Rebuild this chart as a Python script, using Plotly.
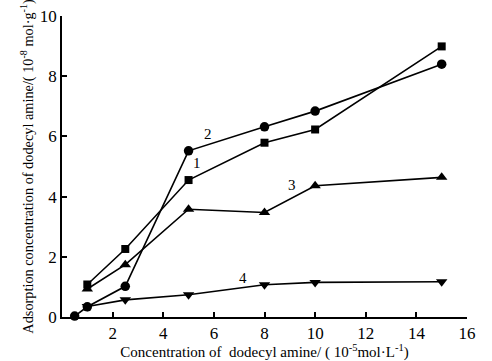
import plotly.graph_objects as go

x1 = [1, 2.5, 5, 8, 10, 15]
y1 = [1.08, 2.26, 4.55, 5.79, 6.23, 8.99]
x2 = [0.5, 1, 2.5, 5, 8, 10, 15]
y2 = [0.03, 0.34, 1.02, 5.52, 6.32, 6.84, 8.4]
x3 = [1, 2.5, 5, 8, 10, 15]
y3 = [0.93, 1.74, 3.58, 3.47, 4.36, 4.64]
x4 = [1, 2.5, 5, 8, 10, 15]
y4 = [0.35, 0.57, 0.74, 1.07, 1.15, 1.17]

labels = ["1", "2", "3", "4"]
label_x = [5.32, 5.76, 9.08, 7.17]
label_y = [5.1, 6.07, 4.37, 1.31]

font = "Liberation Serif, Times New Roman, serif"
fig = go.Figure()
series = [(x1, y1, "square", 8), (x2, y2, "circle", 9.5), (x3, y3, "triangle-up", 10), (x4, y4, "triangle-down", 10)]
for (xs, ys, sym, sz), name in zip(series, labels):
    fig.add_trace(go.Scatter(x=xs, y=ys, mode="lines+markers", name=name,
                             line=dict(color="black", width=1.6),
                             marker=dict(symbol=sym, size=sz, color="black"),
                             cliponaxis=False))

for t, lx, ly in zip(labels, label_x, label_y):
    fig.add_annotation(x=lx, y=ly, text=t, showarrow=False,
                       font=dict(family=font, size=15, color="black"))

fig.update_layout(
    width=492, height=361,
    margin=dict(l=62, r=25, t=16, b=44),
    plot_bgcolor="white", paper_bgcolor="white",
    showlegend=False,
    font=dict(family=font, color="black"),
    xaxis=dict(range=[0, 16], tickvals=[2, 4, 6, 8, 10, 12, 14, 16],
               ticks="inside", ticklen=5, tickwidth=1.5, tickcolor="black",
               showline=True, linecolor="black", linewidth=1.5,
               showgrid=False, zeroline=False, automargin=False,
               tickfont=dict(family=font, size=17),
               title=dict(text="Concentration of  dodecyl amine/ ( 10<sup>-5</sup>mol·L<sup>-1</sup>)",
                          font=dict(family=font, size=15), standoff=5)),
    yaxis=dict(range=[0, 10], tickvals=[0, 2, 4, 6, 8, 10],
               ticks="inside", ticklen=5, tickwidth=1.5, tickcolor="black",
               showline=True, linecolor="black", linewidth=1.5,
               showgrid=False, zeroline=False, automargin=False,
               tickfont=dict(family=font, size=17),
               title=dict(text="Adsorption concentration of dodecyl amine/( 10<sup>-8</sup> mol·g<sup>-1</sup>)",
                          font=dict(family=font, size=14.3), standoff=3)),
)
fig.write_html("out.html", config={"displayModeBar": False},
               post_script="document.body.style.margin='0';document.body.style.overflow='hidden';")
